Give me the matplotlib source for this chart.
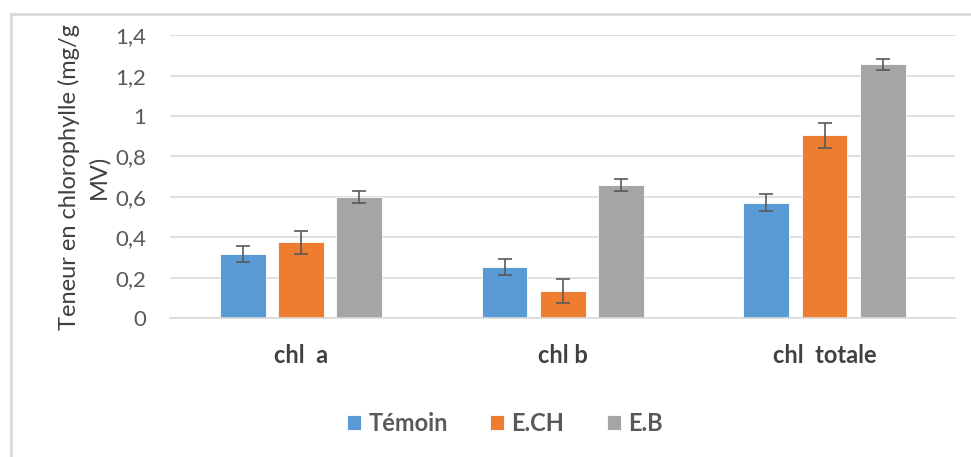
import numpy as np
import matplotlib.pyplot as plt
from matplotlib.lines import Line2D
from matplotlib.ticker import FixedLocator

plt.rcParams['font.family'] = ['Lato', 'DejaVu Sans']

# Data
categories = ['chl  a', 'chl b', 'chl  totale']
series = ['Témoin', 'E.CH', 'E.B']
temoin = [0.317, 0.252, 0.570]
temoin_err = [0.040, 0.040, 0.042]
ech = [0.376, 0.134, 0.905]
ech_err = [0.057, 0.057, 0.061]
eb = [0.600, 0.658, 1.255]
eb_err = [0.030, 0.030, 0.029]
yticks = [0, 0.2, 0.4, 0.6, 0.8, 1.0, 1.2, 1.4]
ytick_labels = ['0', '0,2', '0,4', '0,6', '0,8', '1', '1,2', '1,4']

colors = ['#5B9BD5', '#ED7D31', '#A5A5A5']

fig = plt.figure(figsize=(9.71, 4.57), dpi=100)
ax = fig.add_axes([0.175, 0.304, 0.809, 0.619])

x = np.arange(len(categories))
width = 0.175
step = 0.222
values = [temoin, ech, eb]
errs = [temoin_err, ech_err, eb_err]
for i, (vals, err, col, name) in enumerate(zip(values, errs, colors, series)):
    ax.bar(x + (i - 1) * step, vals, width, color=col, edgecolor='white',
           linewidth=0.6, label=name, zorder=2)
    ax.errorbar(x + (i - 1) * step, vals, yerr=err, fmt='none',
                ecolor='#595959', elinewidth=1.2, capsize=5, capthick=1.2, zorder=3)

ax.set_xlim(-0.5, 2.5)
ax.set_ylim(0, 1.4)
ax.yaxis.set_major_locator(FixedLocator(yticks))
ax.set_yticklabels(ytick_labels)
ax.set_xticks(x)
ax.set_xticklabels(categories, fontsize=17, fontweight='bold', color='#404040')
ax.tick_params(axis='y', length=0, labelsize=16, labelcolor='#595959', pad=17)
ax.tick_params(axis='x', length=0, pad=19)
ax.grid(axis='y', color='#D9D9D9', linewidth=1.2, zorder=0)
ax.set_axisbelow(True)
for s in ['top', 'right', 'left']:
    ax.spines[s].set_visible(False)
ax.spines['bottom'].set_color('#D9D9D9')
ax.spines['bottom'].set_linewidth(1.2)

ax.set_ylabel('Teneur en chlorophylle (mg/g\nMV)', fontsize=17, color='#404040',
              linespacing=1.45, labelpad=4)

leg = fig.legend(loc='center', bbox_to_anchor=(0.52, 0.074), ncol=3, frameon=False,
                 prop={'size': 17, 'weight': 'bold'}, handlelength=0.6, handleheight=0.6,
                 columnspacing=1.8, handletextpad=0.3)
for t in leg.get_texts():
    t.set_color('#595959')

# chart border (only top and left visible)
fig.add_artist(Line2D([11 / 971, 11 / 971], [0, 1 - 14 / 457], transform=fig.transFigure,
                      color='#D9D9D9', linewidth=2))
fig.add_artist(Line2D([11 / 971, 1], [1 - 14 / 457, 1 - 14 / 457], transform=fig.transFigure,
                      color='#D9D9D9', linewidth=2))

fig.savefig('out.png', dpi=100)
